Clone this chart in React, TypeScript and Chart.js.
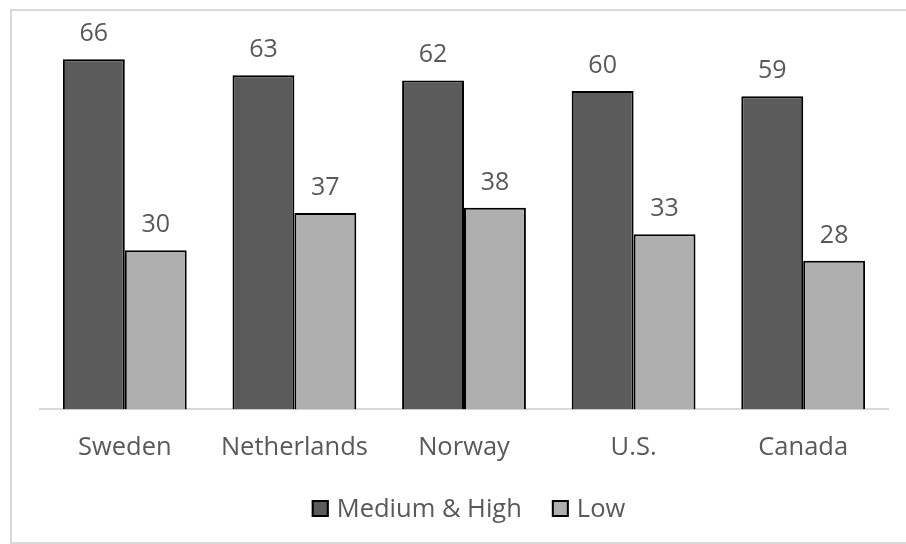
import React, { useEffect, useRef } from "react";
import { Chart, registerables } from "chart.js";

Chart.register(...registerables);

const categories = ["Sweden", "Netherlands", "Norway", "U.S.", "Canada"];
const mediumHigh = [66, 63, 62, 60, 59];
const low = [30, 37, 38, 33, 28];
const seriesNames = ["Medium & High", "Low"];

const FONT = "'Open Sans', 'Segoe UI', sans-serif";
const TEXT = "#595959";

const valueLabels = {
  id: "valueLabels",
  afterDatasetsDraw(chart: any) {
    const ctx = chart.ctx;
    ctx.save();
    ctx.font = `25px ${FONT}`;
    ctx.fillStyle = TEXT;
    ctx.textAlign = "center";
    ctx.textBaseline = "alphabetic";
    chart.data.datasets.forEach((ds: any, i: number) => {
      const meta = chart.getDatasetMeta(i);
      meta.data.forEach((el: any, j: number) => {
        ctx.fillText(String(ds.data[j]), el.x, el.y - 18);
      });
    });
    ctx.restore();
  },
};

const bottomLegend = {
  id: "bottomLegend",
  afterDraw(chart: any) {
    const ctx = chart.ctx;
    ctx.save();
    ctx.font = `25.5px ${FONT}`;
    ctx.textBaseline = "alphabetic";
    ctx.textAlign = "left";
    const box = 17;
    const gap = 8;
    const itemGap = 30;
    const items = chart.data.datasets.map((ds: any) => ({
      ds,
      w: box + gap + ctx.measureText(ds.label).width,
    }));
    const total = items.reduce((s: number, it: any) => s + it.w, 0) + itemGap * (items.length - 1);
    let x = 468.5 - total / 2;
    const baseline = 517;
    const boxTop = 500;
    items.forEach((it: any) => {
      ctx.fillStyle = it.ds.backgroundColor;
      ctx.fillRect(x, boxTop, box, box);
      ctx.strokeStyle = "#000";
      ctx.lineWidth = 2;
      ctx.strokeRect(x + 1, boxTop + 1, box - 2, box - 2);
      ctx.fillStyle = TEXT;
      ctx.fillText(it.ds.label, x + box + gap, baseline);
      x += it.w + itemGap;
    });
    ctx.restore();
  },
};

export default function App() {
  const ref = useRef<HTMLCanvasElement>(null);
  useEffect(() => {
    const chart = new Chart(ref.current!, {
      type: "bar",
      data: {
        labels: categories,
        datasets: [
          {
            label: seriesNames[0],
            data: mediumHigh,
            backgroundColor: "#5b5b5b",
            borderColor: "#000000",
            borderWidth: 2,
            borderSkipped: "start",
            categoryPercentage: 0.73,
            barPercentage: 1,
          },
          {
            label: seriesNames[1],
            data: low,
            backgroundColor: "#afafaf",
            borderColor: "#000000",
            borderWidth: 2,
            borderSkipped: "start",
            categoryPercentage: 0.73,
            barPercentage: 1,
          },
        ],
      },
      options: {
        animation: false,
        responsive: false,
        maintainAspectRatio: false,
        layout: { padding: { left: 40, right: 18, top: 38, bottom: 66 } },
        plugins: {
          tooltip: { enabled: false },
          legend: { display: false },
        },
        scales: {
          x: {
            grid: { display: false },
            border: { color: "#d9d9d9", width: 2 },
            ticks: { font: { family: FONT, size: 25.5 }, color: TEXT, padding: 15 },
          },
          y: {
            display: false,
            min: 0,
            max: 70,
          },
        },
      },
      plugins: [valueLabels, bottomLegend],
    });
    return () => chart.destroy();
  }, []);
  return (
    <div style={{ position: "fixed", left: 0, top: 0, width: 906, height: 544, background: "#fff", overflow: "hidden" }}>
      <div
        style={{
          position: "absolute",
          left: 10,
          top: 9,
          width: 920,
          height: 535,
          boxSizing: "border-box",
          border: "2px solid #d9d9d9",
        }}
      />
      <canvas ref={ref} width={906} height={544} style={{ position: "absolute", left: 0, top: 0 }} />
    </div>
  );
}
